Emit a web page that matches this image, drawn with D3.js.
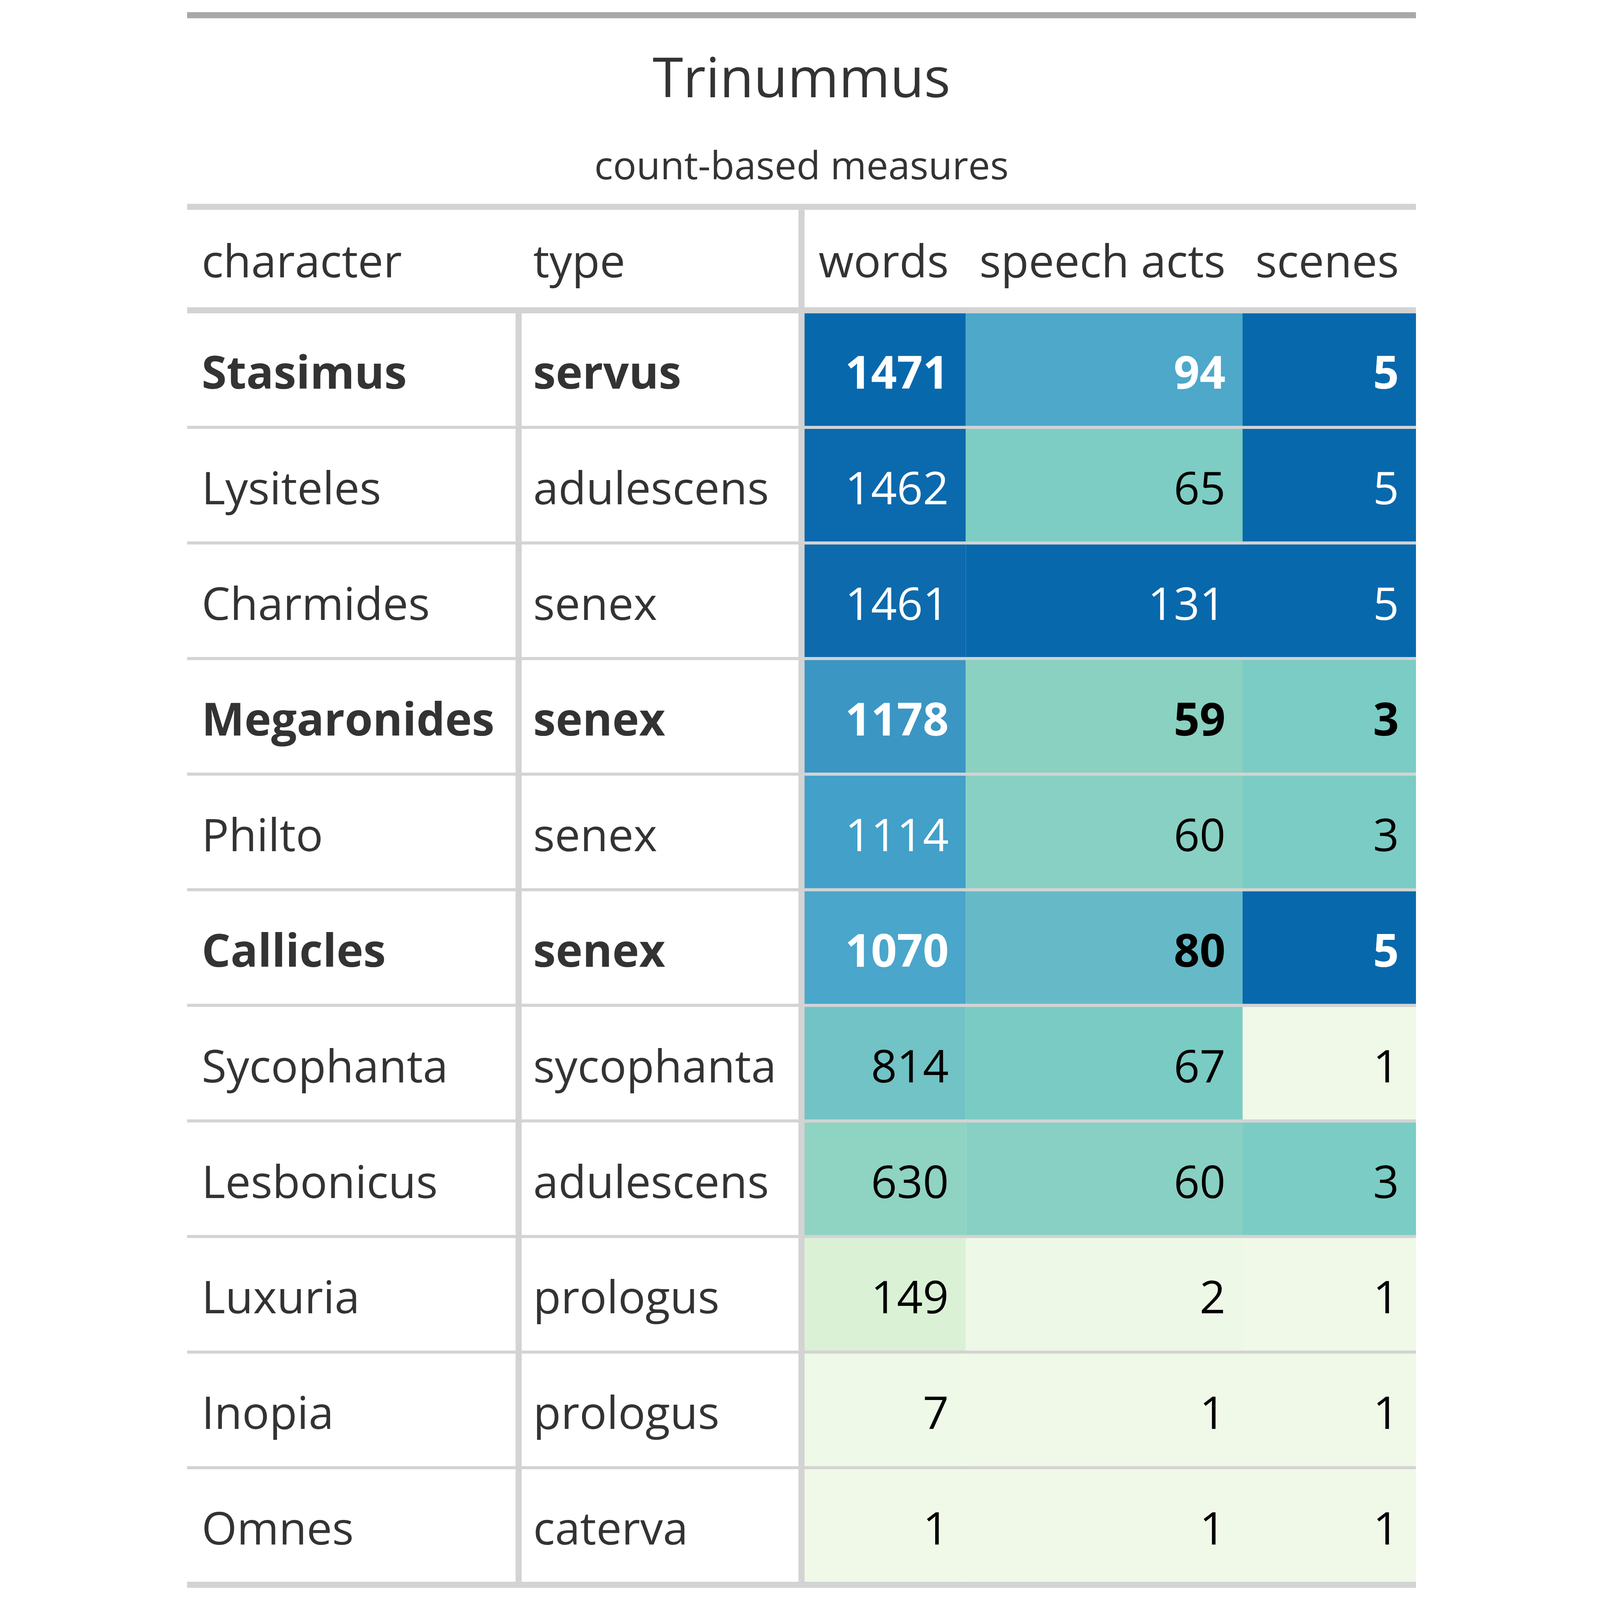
<!DOCTYPE html>
<html>
<head>
<meta charset="utf-8">
<script src="https://cdn.jsdelivr.net/npm/d3@7"></script>
<style>
  html, body { margin: 0; padding: 0; background: #fff; width: 100%; height: 100%; overflow: hidden; }
  svg { display: block; width: 100vw; height: 100vh; }
  svg text { font-family: "Open Sans", "Noto Sans", sans-serif; }
</style>
</head>
<body>
<svg id="chart" viewBox="0 0 4130 5260" preserveAspectRatio="xMidYMid meet"></svg>
<script>
// table data
var title = "Trinummus";
var subtitle = "count-based measures";
var headers = ["character", "type", "words", "speech acts", "scenes"];
var characters = ["Stasimus", "Lysiteles", "Charmides", "Megaronides", "Philto", "Callicles",
                  "Sycophanta", "Lesbonicus", "Luxuria", "Inopia", "Omnes"];
var types = ["servus", "adulescens", "senex", "senex", "senex", "senex",
             "sycophanta", "adulescens", "prologus", "prologus", "caterva"];
var words = [1471, 1462, 1461, 1178, 1114, 1070, 814, 630, 149, 7, 1];
var speechActs = [94, 65, 131, 59, 60, 80, 67, 60, 2, 1, 1];
var scenes = [5, 5, 5, 3, 3, 5, 1, 3, 1, 1, 1];
var boldCharacters = ["Stasimus", "Megaronides", "Callicles"];
var palette = ["#f0f9e8", "#bae4bc", "#7bccc4", "#43a2ca", "#0868ac"];

// layout (in the 4130 x 5260 drawing space, scaled to fit the window)
var left = 50, right = 4090;
var fontSize = 149;
var textCol = "#333333";
var lineCol = "#d3d3d3";
var columns = [
    {key: "character", x0: 50, x1: 1140, align: "start"},
    {key: "type", x0: 1140, x1: 2070, align: "start"},
    {key: "words", x0: 2070, x1: 2610, align: "end", values: words},
    {key: "speech acts", x0: 2610, x1: 3520, align: "end", values: speechActs},
    {key: "scenes", x0: 3520, x1: 4090, align: "end", values: scenes}
];
var bodyTop = 1030, bodyBottom = 5210;

var svg = d3.select("#chart");

var y = d3.scaleBand().domain(characters).range([bodyTop, bodyBottom]);
var rowH = y.bandwidth() - 10;

function colorScale(vals) {
    var ext = d3.extent(vals);
    var stops = palette.map(function(d, i) { return ext[0] + (ext[1] - ext[0]) * i / (palette.length - 1); });
    return d3.scaleLinear().domain(stops).range(palette).interpolate(d3.interpolateLab);
}
function textOn(fill) {
    var c = d3.rgb(fill);
    var lin = function(v) { v /= 255; return v <= 0.03928 ? v / 12.92 : Math.pow((v + 0.055) / 1.055, 2.4); };
    var L = 0.2126 * lin(c.r) + 0.7152 * lin(c.g) + 0.0722 * lin(c.b);
    return L < 0.38 ? "#ffffff" : "#000000";
}
function weight(d, i) { return boldCharacters.indexOf(characters[i]) >= 0 ? 700 : 400; }

// title
svg.append("rect").attr("x", left).attr("y", 40).attr("width", right - left).attr("height", 20).attr("fill", "#a8a8a8");
svg.append("text").attr("x", 2070).attr("y", 320).attr("text-anchor", "middle")
    .attr("font-size", 182).attr("fill", textCol).text(title);
svg.append("text").attr("x", 2070).attr("y", 589).attr("text-anchor", "middle")
    .attr("font-size", 128).attr("fill", textCol).text(subtitle);
svg.append("rect").attr("x", left).attr("y", 670).attr("width", right - left).attr("height", 20).attr("fill", lineCol);

// header
svg.selectAll("text.header").data(columns).enter()
    .append("text")
    .attr("class", "header")
    .attr("x", function(d) { return d.align === "start" ? d.x0 + 48 : d.x1 - 56; })
    .attr("y", 912)
    .attr("text-anchor", function(d) { return d.align; })
    .attr("font-size", fontSize)
    .attr("fill", textCol)
    .text(function(d, i) { return headers[i]; });

// coloured cells
columns.filter(function(c) { return c.values; }).forEach(function(col) {
    var cs = colorScale(col.values);
    var g = svg.append("g");
    g.selectAll("rect").data(col.values).enter()
        .append("rect")
        .attr("x", col.x0)
        .attr("y", function(d, i) { return y(characters[i]); })
        .attr("width", col.x1 - col.x0)
        .attr("height", y.bandwidth())
        .attr("fill", function(d) { return cs(d); });
    g.selectAll("text").data(col.values).enter()
        .append("text")
        .attr("x", col.x1 - 56)
        .attr("y", function(d, i) { return y(characters[i]) + 248; })
        .attr("text-anchor", "end")
        .attr("font-size", fontSize)
        .attr("font-weight", weight)
        .attr("fill", function(d) { return textOn(cs(d)); })
        .text(function(d) { return d; });
});

// text columns
[characters, types].forEach(function(vals, ci) {
    var col = columns[ci];
    svg.append("g").selectAll("text").data(vals).enter()
        .append("text")
        .attr("x", col.x0 + 48)
        .attr("y", function(d, i) { return y(characters[i]) + 248; })
        .attr("font-size", fontSize)
        .attr("font-weight", weight)
        .attr("fill", textCol)
        .text(function(d) { return d; });
});

// row rules
svg.append("g").selectAll("rect").data(characters.slice(0, -1)).enter()
    .append("rect")
    .attr("x", left)
    .attr("y", function(d) { return y(d) + rowH; })
    .attr("width", right - left)
    .attr("height", 10)
    .attr("fill", lineCol);

// vertical rules
svg.append("rect").attr("x", 1130).attr("y", bodyTop).attr("width", 20).attr("height", bodyBottom - bodyTop).attr("fill", lineCol);
svg.append("rect").attr("x", 2060).attr("y", 690).attr("width", 20).attr("height", bodyBottom - 690).attr("fill", lineCol);

// header rule and bottom rule
svg.append("rect").attr("x", left).attr("y", 1010).attr("width", right - left).attr("height", 20).attr("fill", lineCol);
svg.append("rect").attr("x", left).attr("y", bodyBottom - 10).attr("width", right - left).attr("height", 20).attr("fill", lineCol);
</script>
</body>
</html>
